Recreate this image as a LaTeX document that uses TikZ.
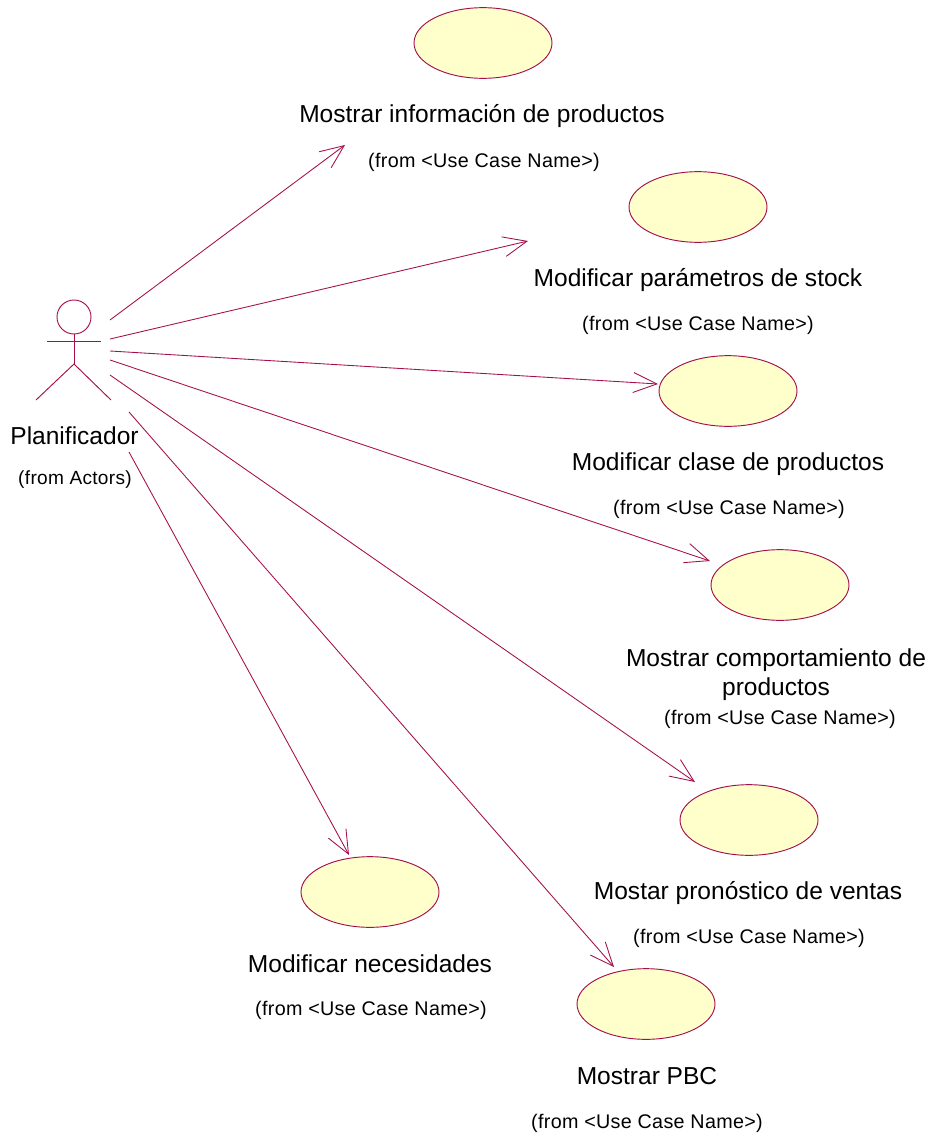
\documentclass[tikz,border=0pt]{standalone}
\usepackage{fontspec}
\setmainfont{Liberation Sans}
\newfontfamily\originfont[LetterSpace=1.6]{Liberation Sans}
\usetikzlibrary{shapes.geometric,arrows.meta}
\definecolor{umlline}{HTML}{A50F4B}
\definecolor{umlfill}{HTML}{FFFFCC}
\tikzset{
  x=0.75pt,y=-0.75pt,
  usecase/.style={ellipse,draw=umlline,fill=umlfill,line width=0.7pt,minimum width=103.5pt,minimum height=53pt,inner sep=0pt},
  assoc/.style={draw=umlline,line width=0.65pt,-{Straight Barb[length=17.7pt,width=15pt,line width=0.65pt]}},
  actorline/.style={draw=umlline,line width=0.7pt},
  title/.style={font=\fontsize{18.4pt}{21.8pt}\selectfont,align=center,inner sep=0pt,text=black},
  origin/.style={font=\originfont\fontsize{14.8pt}{17pt}\selectfont,inner sep=0pt,text=black},
  originsmall/.style={font=\originfont\fontsize{14.3pt}{17pt}\selectfont,inner sep=0pt,text=black},
}
\begin{document}
\begin{tikzpicture}
\useasboundingbox (0,0) rectangle (930,1138);
% actor
\node[circle,draw=umlline,line width=0.7pt,minimum size=25.5pt,inner sep=0pt] (head) at (74,317) {};
\coordinate (hip) at (74,364);
\coordinate (armL) at (47,341.5);
\coordinate (armR) at (101,341.5);
\coordinate (legL) at (36,400);
\coordinate (legR) at (111,400);
\draw[actorline] (head.south) -- (hip);
\draw[actorline] (armL) -- (armR);
\draw[actorline] (legL) -- (hip) -- (legR);
\node[title] (actorname) at (74.5,436) {Planificador};
\node[originsmall] (actorfrom) at (75,480) {(from Actors)};
% use cases
\node[usecase] (uc1) at (483,43) {};
\node[title] (t1) at (482,116.5) {Mostrar información de productos};
\node[origin] (f1) at (484,162) {(from <Use Case Name>)};
\node[usecase] (uc2) at (698,207) {};
\node[title] (t2) at (698,280.5) {Modificar parámetros de stock};
\node[origin] (f2) at (698,325) {(from <Use Case Name>)};
\node[usecase] (uc3) at (728,391) {};
\node[title] (t3) at (728,464.5) {Modificar clase de productos};
\node[origin] (f3) at (729,509) {(from <Use Case Name>)};
\node[usecase] (uc4) at (780,585) {};
\node[title] (t4) at (776,674.5) {Mostrar comportamiento de\\productos};
\node[origin] (f4) at (780,719) {(from <Use Case Name>)};
\node[usecase] (uc5) at (749,820) {};
\node[title] (t5) at (748,893.5) {Mostar pronóstico de ventas};
\node[origin] (f5) at (749,938) {(from <Use Case Name>)};
\node[usecase] (uc6) at (370,892) {};
\node[title] (t6) at (370,964) {Modificar necesidades};
\node[origin] (f6) at (371,1010) {(from <Use Case Name>)};
\node[usecase] (uc7) at (646,1004) {};
\node[title] (t7) at (647,1076) {Mostrar PBC};
\node[origin] (f7) at (647,1123) {(from <Use Case Name>)};
% connector ends
\coordinate (s1) at (110,320); \coordinate (e1) at (345,145);
\coordinate (s2) at (110,339); \coordinate (e2) at (528,241);
\coordinate (s3) at (110,351); \coordinate (e3) at (658,384);
\coordinate (s4) at (110,360); \coordinate (e4) at (710,561);
\coordinate (s5) at (110,375); \coordinate (e5) at (695,782);
\coordinate (s6) at (129,412); \coordinate (e6) at (614,967);
\coordinate (s7) at (129,452); \coordinate (e7) at (349,855);
\foreach \i in {1,...,7} \draw[assoc] (s\i) -- (e\i);
\end{tikzpicture}
\end{document}
